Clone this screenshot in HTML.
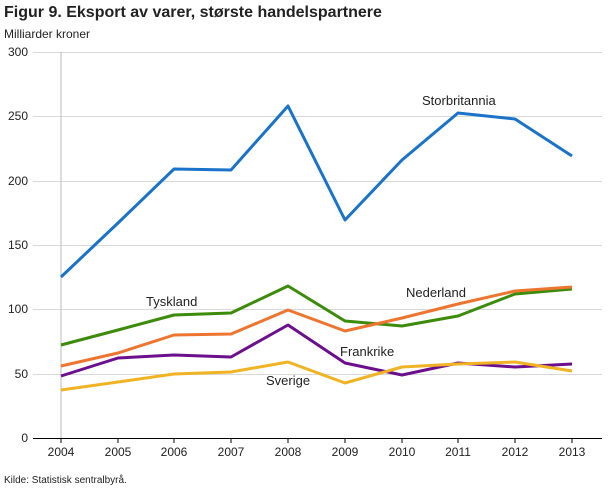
<!DOCTYPE html>
<html><head><meta charset="utf-8"><style>
body{margin:0;background:#fff;}
svg{display:block;font-family:"Liberation Sans",sans-serif;}
</style></head><body>
<svg width="610" height="488" xmlns="http://www.w3.org/2000/svg">
<text x="4" y="17" font-size="16" font-weight="bold" fill="#222">Figur 9. Eksport av varer, største handelspartnere</text>
<text x="4" y="38" font-size="12" fill="#222">Milliarder kroner</text>
<g stroke="#d9d9d9" stroke-width="1">
<line x1="33" x2="602" y1="52.5" y2="52.5"/>
<line x1="33" x2="602" y1="116.5" y2="116.5"/>
<line x1="33" x2="602" y1="181.5" y2="181.5"/>
<line x1="33" x2="602" y1="245.5" y2="245.5"/>
<line x1="33" x2="602" y1="309.5" y2="309.5"/>
<line x1="33" x2="602" y1="374.5" y2="374.5"/>
</g>
<line x1="61" x2="61" y1="52" y2="438" stroke="#bbb"/>
<line x1="33" x2="602" y1="438.5" y2="438.5" stroke="#000"/>
<g stroke="#000">
<line x1="61" x2="61" y1="438" y2="443"/><line x1="118" x2="118" y1="438" y2="443"/><line x1="174" x2="174" y1="438" y2="443"/><line x1="231" x2="231" y1="438" y2="443"/><line x1="288" x2="288" y1="438" y2="443"/><line x1="345" x2="345" y1="438" y2="443"/><line x1="402" x2="402" y1="438" y2="443"/><line x1="458" x2="458" y1="438" y2="443"/><line x1="515" x2="515" y1="438" y2="443"/><line x1="572" x2="572" y1="438" y2="443"/>
</g>
<g font-size="12" fill="#222" text-anchor="end">
<text x="28" y="56">300</text><text x="28" y="120">250</text><text x="28" y="185">200</text><text x="28" y="249">150</text><text x="28" y="313">100</text><text x="28" y="378">50</text><text x="28" y="442">0</text>
</g>
<g font-size="12" fill="#222" text-anchor="middle">
<text x="61" y="456">2004</text><text x="118" y="456">2005</text><text x="174" y="456">2006</text><text x="231" y="456">2007</text><text x="288" y="456">2008</text><text x="345" y="456">2009</text><text x="402" y="456">2010</text><text x="458" y="456">2011</text><text x="515" y="456">2012</text><text x="572" y="456">2013</text>
</g>
<g fill="none" stroke-width="3" stroke-linejoin="round">
<polyline stroke="#1a73c9" points="61,277 118,223 174,169 231,170 288,106 345,220 402,160 458,113 515,119 572,156"/>
<polyline stroke="#3d8b0a" points="61,345 118,330 174,315 231,313 288,286 345,321 402,326 458,316 515,294 572,289"/>
<polyline stroke="#ed7530" points="61,366 118,353 174,335 231,334 288,310 345,331 402,318 458,304 515,291 572,287"/>
<polyline stroke="#6b0f8c" points="61,376 118,358 174,355 231,357 288,325 345,363 402,375 458,363 515,367 572,364"/>
<polyline stroke="#f0b323" points="61,390 118,382 174,374 231,372 288,362 345,383 402,367 458,364 515,362 572,371"/>
</g>
<g font-size="13" fill="#222">
<text x="422" y="105">Storbritannia</text>
<text x="146" y="306">Tyskland</text>
<text x="406" y="297">Nederland</text>
<text x="340" y="356">Frankrike</text>
<text x="266" y="385">Sverige</text>
</g>
<text x="4" y="483" font-size="10" fill="#222">Kilde: Statistisk sentralbyrå.</text>
</svg>
</body></html>
